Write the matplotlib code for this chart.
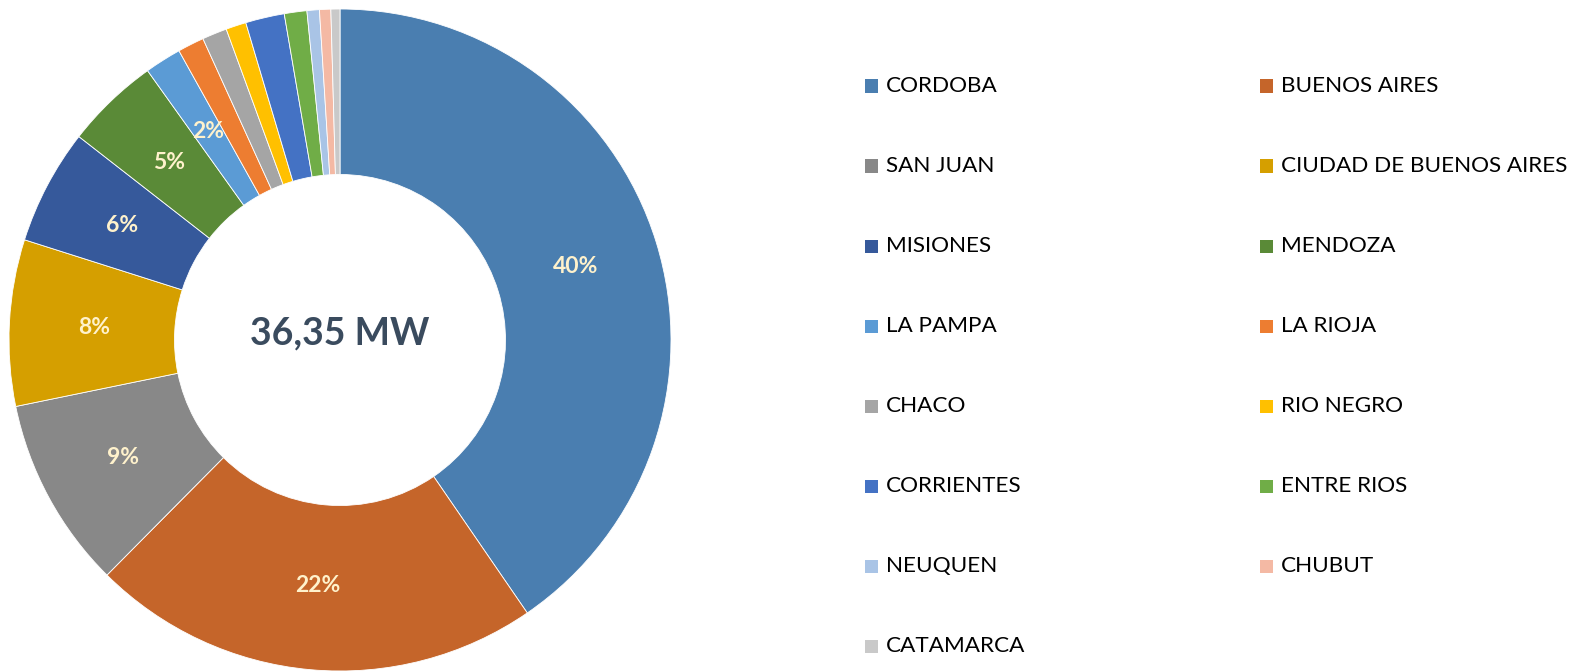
import matplotlib
matplotlib.use("Agg")
import matplotlib.pyplot as plt
from matplotlib.patches import Rectangle
import numpy as np

provinces = ["CORDOBA", "BUENOS AIRES", "SAN JUAN", "CIUDAD DE BUENOS AIRES",
             "MISIONES", "MENDOZA", "LA PAMPA", "LA RIOJA", "CHACO", "RIO NEGRO",
             "CORRIENTES", "ENTRE RIOS", "NEUQUEN", "CHUBUT", "CATAMARCA"]
power_mw = [14.70, 8.00, 3.40, 2.95, 2.05, 1.67, 0.65, 0.47, 0.44, 0.36,
            0.69, 0.40, 0.22, 0.20, 0.16]
show_label = [True, True, True, True, True, True, True,
              False, False, False, False, False, False, False, False]
colors = ["#4A7EB0", "#C5652A", "#888888", "#D59F00", "#36599B", "#5A8A37",
          "#5B9BD5", "#ED7D31", "#A5A5A5", "#FFC000", "#4472C4", "#70AD47",
          "#A9C4E6", "#F4B9A4", "#C9C9C9"]
center_text = "36,35 MW"

W, H = 1573, 672
fig = plt.figure(figsize=(W / 100, H / 100), dpi=100)

cx, cy, R = 340, 340, 331
ax = fig.add_axes([(cx - R) / W, (H - cy - R) / H, 2 * R / W, 2 * R / H])
total = sum(power_mw)

wedges, _ = ax.pie(power_mw, colors=colors, startangle=90, counterclock=False,
                   radius=1.0, wedgeprops=dict(width=0.5, edgecolor="white", linewidth=0.6))
theta0 = 90.0
for v, show in zip(power_mw, show_label):
    frac = v / total
    mid = theta0 - frac * 360 / 2
    theta0 -= frac * 360
    if show:
        r = 0.745
        ax.text(r * np.cos(np.radians(mid)), r * np.sin(np.radians(mid)),
                f"{round(frac * 100):.0f}%", ha="center", va="center",
                color="#FFF2CC", fontsize=16.5, fontweight="bold", family="Lato")
ax.text(0, 0.02, center_text, ha="center", va="center", color="#3A4B5E",
        fontsize=27, fontweight="bold", family="Lato")
ax.set_xlim(-1, 1)
ax.set_ylim(-1, 1)
ax.set_aspect("equal")
ax.axis("off")

# legend
col_x = [865, 1260]
row_y0, row_dy = 86, 80
sq = 13
for i, (name, c) in enumerate(zip(provinces, colors)):
    row, col = divmod(i, 2)
    x = col_x[col]
    y = row_y0 + row * row_dy
    fig.patches.append(Rectangle((x / W, (H - y - sq / 2) / H), sq / W, sq / H,
                                 transform=fig.transFigure, facecolor=c, edgecolor="none"))
    fig.text((x + sq + 8) / W, (H - y) / H, name, ha="left", va="center",
             fontsize=16.2, family="Lato", color="black")

fig.savefig("out.png", dpi=100, facecolor="white")
